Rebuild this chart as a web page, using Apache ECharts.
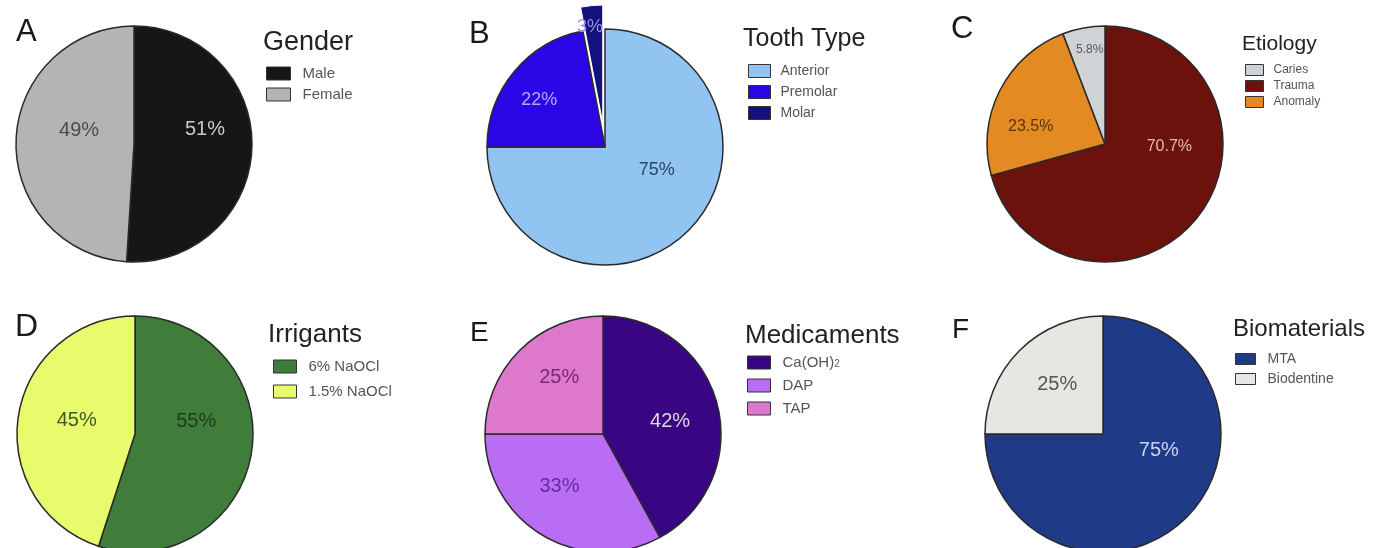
<!DOCTYPE html>
<html>
<head>
<meta charset="utf-8">
<script src="https://cdn.jsdelivr.net/npm/echarts@6/dist/echarts.min.js"></script>
<style>
  html, body { margin: 0; padding: 0; background: #fff; }
  #main { width: 1383px; height: 548px; }
</style>
</head>
<body>
<div id="main"></div>
<script>
// data
var genderNames = ['Male', 'Female'];
var genderValues = [51, 49];
var toothNames = ['Anterior', 'Premolar', 'Molar'];
var toothValues = [75, 22, 3];
var etiologyNames = ['Trauma', 'Anomaly', 'Caries'];
var etiologyValues = [70.7, 23.5, 5.8];
var etiologyLegend = ['Caries', 'Trauma', 'Anomaly'];
var irrigantNames = ['6% NaOCl', '1.5% NaOCl'];
var irrigantValues = [55, 45];
var medicamentNames = ['Ca(OH)2', 'DAP', 'TAP'];
var medicamentValues = [42, 33, 25];
var biomaterialNames = ['MTA', 'Biodentine'];
var biomaterialValues = [75, 25];

var FONT = '"Liberation Sans", Arial, Helvetica, sans-serif';

// panel look
var panels = [
  {letter: 'A', title: 'Gender', names: genderNames, values: genderValues, legend: genderNames,
   center: [134, 144], colors: ['#161616', '#b4b4b4'], labelColors: ['#c9c9c9', '#4a4a4a'],
   labelSize: 20, offsets: [[9, -16], [7, -12]],
   letterPos: [16, 17], letterSize: 31,
   titlePos: [263, 29], titleSize: 27,
   legendPos: [266, 66], box: [24, 13], gap: 6, textSize: 15, textPad: 7},
  {letter: 'B', title: 'Tooth Type', names: toothNames, values: toothValues, legend: toothNames,
   center: [605, 147], colors: ['#92c4f2', '#2a05e6', '#14107e'], labelColors: ['#2a4866', '#b9a8ff', '#9a96e0'],
   labelSize: 18, offsets: [[8, -21], [-18, -7], [-7, -34]], explode: 2,
   letterPos: [469, 19], letterSize: 31,
   titlePos: [743, 27], titleSize: 25,
   legendPos: [748, 64], box: [22, 13], gap: 7, textSize: 14, textPad: 5},
  {letter: 'C', title: 'Etiology', names: etiologyNames, values: etiologyValues, legend: etiologyLegend,
   center: [1105, 144], colors: ['#6b120c', '#e38b22', '#d0d3d6'], labelColors: ['#e9b8b2', '#5a3412', '#5a5a5a'],
   labelSize: 16, sizes: [16, 16, 12], offsets: [[15, -35], [-19, 11], [-4, -33]],
   letterPos: [951, 14], letterSize: 31,
   titlePos: [1242, 34], titleSize: 21,
   legendPos: [1245, 64], box: [18, 11], gap: 4, textSize: 12, textPad: 5},
  {letter: 'D', title: 'Irrigants', names: irrigantNames, values: irrigantValues, legend: irrigantNames,
   center: [135, 434], colors: ['#407d3b', '#e7fb6c'], labelColors: ['#1e3c1b', '#3c5a22'],
   labelSize: 20, offsets: [[0, -22], [3, -4]],
   letterPos: [15, 311], letterSize: 32,
   titlePos: [268, 322], titleSize: 26,
   legendPos: [273, 359], box: [23, 13], gap: 10, textSize: 15, textPad: 7},
  {letter: 'E', title: 'Medicaments', names: medicamentNames, values: medicamentValues, legend: medicamentNames,
   center: [603, 434], colors: ['#3a0582', '#b96cf4', '#de78cd'], labelColors: ['#dcdcdc', '#6a2c98', '#7a2a72'],
   labelSize: 20, offsets: [[7, 3], [-12, -1], [0, -13]],
   letterPos: [470, 319], letterSize: 28,
   titlePos: [745, 323], titleSize: 26,
   legendPos: [747, 355], box: [23, 13], gap: 8, textSize: 15, textPad: 7},
  {letter: 'F', title: 'Biomaterials', names: biomaterialNames, values: biomaterialValues, legend: biomaterialNames,
   center: [1103, 434], colors: ['#1f3a86', '#e6e6e3'], labelColors: ['#c9d5ef', '#555555'],
   labelSize: 20, offsets: [[12, -27], [-2, -6]],
   letterPos: [952, 316], letterSize: 28,
   titlePos: [1233, 317], titleSize: 24,
   legendPos: [1235, 352], box: [20, 11], gap: 6, textSize: 14, textPad: 7}
];

var titles = [], legends = [], series = [];
panels.forEach(function (p) {
  titles.push({text: p.letter, left: p.letterPos[0], top: p.letterPos[1], padding: 0,
    textStyle: {fontFamily: FONT, fontSize: p.letterSize, fontWeight: 'normal', color: '#1a1a1a'}});
  titles.push({text: p.title, left: p.titlePos[0], top: p.titlePos[1], padding: 0,
    textStyle: {fontFamily: FONT, fontSize: p.titleSize, fontWeight: 'normal', color: '#222'}});
  legends.push({
    data: p.legend, orient: 'vertical', left: p.legendPos[0], top: p.legendPos[1], padding: 0,
    itemWidth: p.box[0], itemHeight: p.box[1], itemGap: p.gap,
    selectedMode: false, icon: 'rect',
    itemStyle: {borderColor: '#333', borderWidth: 1},
    formatter: function (name) { return name === 'Ca(OH)2' ? 'Ca(OH){sub|2}' : name; },
    textStyle: {fontFamily: FONT, fontSize: p.textSize, color: '#555', lineHeight: p.box[1],
      padding: [0, 0, 0, p.textPad],
      rich: {sub: {fontFamily: FONT, fontSize: 10, color: '#555', lineHeight: 12, padding: [4, 0, 0, 0]}}}
  });
  var data = p.names.map(function (n, i) {
    var lab = {color: p.labelColors[i], offset: p.offsets[i],
      fontSize: p.sizes ? p.sizes[i] : p.labelSize};
    var d = {
      name: n, value: p.values[i],
      itemStyle: {color: p.colors[i]},
      label: lab
    };
    // the exploded slice keeps its look in the selected state
    if (p.explode === i) {
      d.selected = true;
      d.itemStyle.borderColor = '#ffffff';
      d.itemStyle.borderWidth = 1;
      d.select = {label: lab, itemStyle: {color: p.colors[i], borderColor: '#ffffff', borderWidth: 1}};
    }
    return d;
  });
  series.push({
    type: 'pie', center: p.center, radius: 118, startAngle: 90, clockwise: true,
    silent: true, animation: false,
    selectedMode: p.explode != null ? 'single' : false, selectedOffset: 24,
    itemStyle: {borderColor: '#2a2a2a', borderWidth: 1.5},
    label: {show: true, position: 'inside', fontFamily: FONT,
      formatter: function (prm) { return prm.value + '%'; }},
    labelLine: {show: false},
    emphasis: {disabled: true},
    data: data
  });
});

var chart = echarts.init(document.getElementById('main'), null, {renderer: 'canvas'});
chart.setOption({
  backgroundColor: '#ffffff',
  animation: false,
  title: titles,
  legend: legends,
  series: series
});
</script>
</body>
</html>
